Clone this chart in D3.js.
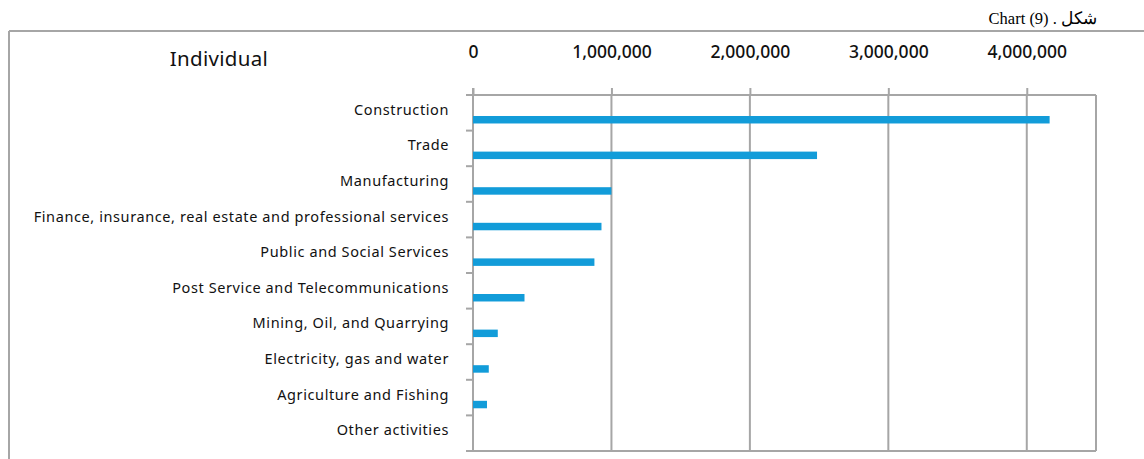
<!DOCTYPE html>
<html>
<head>
<meta charset="utf-8">
<script src="https://cdn.jsdelivr.net/npm/d3@7"></script>
<style>
  html, body { margin: 0; padding: 0; background: #fff; }
  svg { display: block; }
</style>
</head>
<body>
<svg id="chart" width="1144" height="459"></svg>
<script>
// Financing by economic activity — individual borrowers
const categories = [
  "Construction",
  "Trade",
  "Manufacturing",
  "Finance, insurance, real estate and professional services",
  "Public and Social Services",
  "Post Service and Telecommunications",
  "Mining, Oil, and Quarrying",
  "Electricity, gas and water",
  "Agriculture and Fishing",
  "Other activities"
];
const values = [4165000, 2485000, 1000000, 928000, 877000, 372000, 179000, 114000, 101000, 0];
const tickValues = [0, 1000000, 2000000, 3000000, 4000000];
const title = "Individual";
const caption = "Chart (9) . شكل";

const svg = d3.select("#chart");
const grid = "#a6a6a6";
const barColor = "#129cd9";
const font = "'Noto Sans', 'Open Sans', sans-serif";

const plotLeft = 473, plotRight = 1096, plotTop = 95, plotBottom = 451;

const x = d3.scaleLinear().domain([0, 4500000]).range([plotLeft, plotRight]);
const y = d3.scaleBand().domain(categories).range([plotTop, plotBottom]).padding(0);

// outer frame
svg.append("line").attr("x1", 9).attr("x2", 1144).attr("y1", 31).attr("y2", 31)
  .attr("stroke", grid).attr("stroke-width", 2);
svg.append("line").attr("x1", 9).attr("x2", 9).attr("y1", 31).attr("y2", 459)
  .attr("stroke", grid).attr("stroke-width", 2);

// caption
svg.append("text").attr("x", 1097).attr("y", 24).attr("text-anchor", "end")
  .attr("font-family", "'Liberation Serif', serif").attr("font-size", 16.5)
  .attr("fill", "#000").text(caption);

// title
svg.append("text").attr("x", 219).attr("y", 66).attr("text-anchor", "middle")
  .attr("font-family", font).attr("font-size", 20.5).attr("letter-spacing", 0.3)
  .attr("fill", "#111").text(title);

// vertical gridlines
svg.append("g").selectAll("line").data(tickValues.slice(1)).join("line")
  .attr("x1", d => x(d)).attr("x2", d => x(d))
  .attr("y1", plotTop).attr("y2", plotBottom)
  .attr("stroke", grid).attr("stroke-width", 2);

// top axis
const xAxis = d3.axisTop(x).tickValues(tickValues).tickSize(7)
  .tickFormat(d3.format(","));
const gx = svg.append("g").attr("transform", `translate(0,${plotTop})`).call(xAxis);
gx.select(".domain").remove();
gx.selectAll(".tick line").attr("stroke", grid).attr("stroke-width", 2);
gx.selectAll(".tick text").attr("y", -37).attr("font-family", font)
  .attr("font-size", 17.5).attr("font-weight", 500).attr("fill", "#111");
svg.append("line").attr("x1", plotLeft - 7).attr("x2", plotRight).attr("y1", plotTop).attr("y2", plotTop)
  .attr("stroke", grid).attr("stroke-width", 2);
svg.append("line").attr("x1", plotRight).attr("x2", plotRight).attr("y1", plotTop).attr("y2", plotBottom)
  .attr("stroke", grid).attr("stroke-width", 2);
svg.append("line").attr("x1", plotLeft - 7).attr("x2", plotRight).attr("y1", plotBottom).attr("y2", plotBottom)
  .attr("stroke", grid).attr("stroke-width", 2);

// y axis line and band separators
svg.append("line").attr("x1", plotLeft).attr("x2", plotLeft).attr("y1", plotTop - 7).attr("y2", plotBottom)
  .attr("stroke", grid).attr("stroke-width", 2);
svg.append("g").selectAll("line").data(categories.slice(1)).join("line")
  .attr("x1", plotLeft - 7).attr("x2", plotLeft)
  .attr("y1", d => y(d)).attr("y2", d => y(d))
  .attr("stroke", grid).attr("stroke-width", 2);

// category labels
svg.append("g").selectAll("text").data(categories).join("text")
  .attr("x", 449).attr("y", d => y(d) + y.bandwidth() / 2 - 3)
  .attr("dy", "0.35em").attr("text-anchor", "end")
  .attr("font-family", font).attr("font-size", 14.5).attr("letter-spacing", 0.6)
  .attr("fill", "#111")
  .text(d => d);

// bars
svg.append("g").selectAll("rect").data(values).join("rect")
  .attr("x", x(0))
  .attr("y", (d, i) => y(categories[i]) + y.bandwidth() * 0.59)
  .attr("width", d => x(d) - x(0))
  .attr("height", y.bandwidth() * 0.21)
  .attr("fill", barColor);
</script>
</body>
</html>
